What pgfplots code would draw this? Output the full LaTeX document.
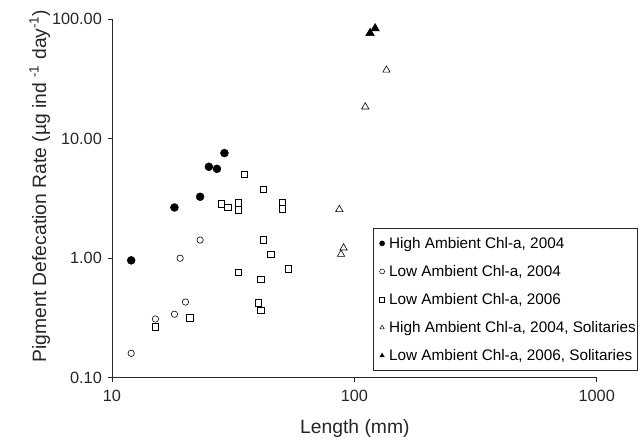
\documentclass[border=0pt]{standalone}
\usepackage{pgfplots}
\pgfplotsset{compat=1.18}
\usepackage{fontspec}
\setmainfont{Liberation Sans}
\begin{document}
\begin{tikzpicture}
\begin{axis}[
  scale only axis, width=484.7pt, height=358.4pt,
  xmode=log, ymode=log,
  xmin=10, xmax=1000, ymin=0.1, ymax=100,
  axis x line*=bottom, axis y line*=left,
  axis line style={line width=0.8pt, -, black!85},
  xtick={10,100,1000}, xticklabels={10,100,1000},
  ytick={0.1,1,10,100}, yticklabels={0.10,1.00,10.00,100.00},
  minor tick style={draw=none},
  tick align=outside, major tick length=4pt,
  tick style={line width=0.6pt, black!85},
  ticklabel style={font=\fontsize{16.3}{18}\selectfont, text=black!85},
  xticklabel style={yshift=-4.6pt},
  yticklabel style={xshift=-2.6pt},
  xlabel={Length (mm)},
  ylabel={Pigment Defecation Rate (µg ind \textsuperscript{-1} day\textsuperscript{-1})},
  label style={font=\fontsize{19.3}{22}\selectfont, text=black!85},
  xlabel style={at={(axis description cs:0.501,-0.155)}, anchor=base},
  ylabel style={at={(axis description cs:-0.149,0.535)}, anchor=center},
  legend style={at={(0.538,0.417)}, anchor=north west,
    font=\fontsize{15.3}{17}\selectfont, draw=black!85, line width=0.7pt,
    inner xsep=0pt, inner ysep=6.5pt, row sep=11.5pt,
    legend cell align=left, cells={anchor=west}},
  legend image code/.code={\path[draw=none, fill=none] (0pt,0pt) -- (14pt,0pt);
    \draw[#1, mark size=2.5pt, line width=0.5pt] plot coordinates {(9pt,0pt)};},
]
\addplot[only marks, mark=*, mark size=4pt, draw=black, fill=black,
  mark options={solid}] coordinates {
  (12.0,0.96) (18.1,2.66) (23.1,3.27) (25.1,5.83) (27.1,5.6) (29.1,7.59)};
\addlegendentry{High Ambient Chl-a, 2004}
\addplot[only marks, mark=o, mark size=3.2pt, draw=black, line width=0.6pt] coordinates {
  (12.0,0.16) (15.1,0.31) (18.1,0.34) (19.1,1.0) (20.1,0.43) (23.1,1.42)};
\addlegendentry{Low Ambient Chl-a, 2004}
\addplot[only marks, mark=square, mark size=3.3pt, draw=black, line width=0.6pt] coordinates {
  (15.1,0.266) (21.0,0.317) (28.2,2.84) (30.1,2.66) (33.2,2.9) (33.2,2.53)
  (33.2,0.765) (35.1,5.06) (40.2,0.423) (41.1,0.367) (41.1,0.668) (42.1,3.79)
  (42.1,1.42) (45.1,1.077) (50.4,2.94) (50.4,2.60) (53.3,0.815)};
\addlegendentry{Low Ambient Chl-a, 2006}
\addplot[only marks, mark=triangle, mark size=4.2pt, draw=black, line width=0.6pt] coordinates {
  (86.7,2.56) (88.1,1.08) (90.3,1.22) (110.9,18.5) (135.6,37.6)};
\addlegendentry{High Ambient Chl-a, 2004, Solitaries}
\addplot[only marks, mark=triangle*, mark size=5pt, draw=black, fill=black] coordinates {
  (116.1,76.6) (121.8,83.9)};
\addlegendentry{Low Ambient Chl-a, 2006, Solitaries}
\end{axis}
\path[use as bounding box] (-112pt,-61.3pt) rectangle (528pt,377.7pt);
\end{tikzpicture}
\end{document}
